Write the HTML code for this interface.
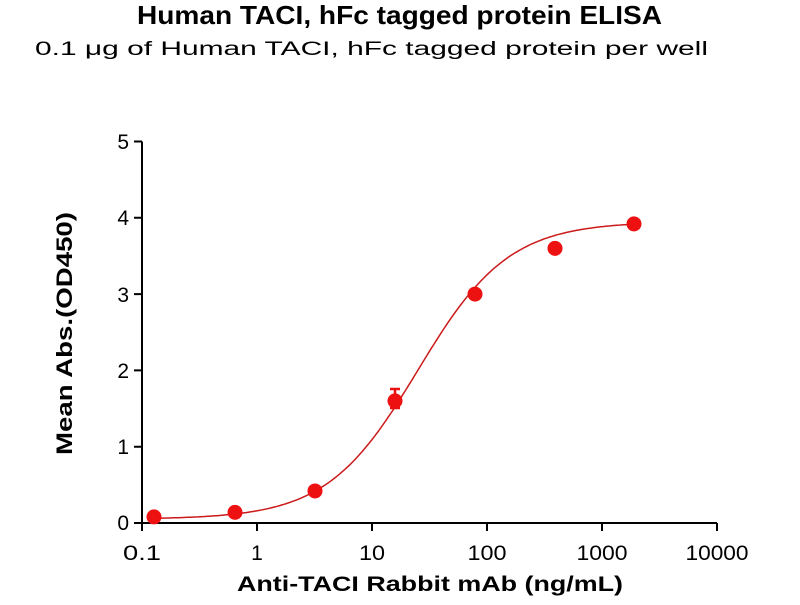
<!DOCTYPE html>
<html><head><style>body{margin:0;background:#fff}</style></head><body>
<svg id="s" width="800" height="600" xmlns="http://www.w3.org/2000/svg" font-family="Liberation Sans, Arial, sans-serif">
<text x="137" y="24" font-size="26" font-weight="bold" textLength="525" lengthAdjust="spacingAndGlyphs">Human TACI, hFc tagged protein ELISA</text>
<text x="35" y="55" font-size="19" textLength="673" lengthAdjust="spacingAndGlyphs">0.1 μg of Human TACI, hFc tagged protein per well</text>
<g stroke="#000" stroke-width="2" fill="none">
<path d="M142 141.5V523H717"/>
<path d="M134 141.5H142M134 217.8H142M134 294.1H142M134 370.4H142M134 446.7H142M134 523H142"/>
<path d="M142 523V531M257 523V531M372 523V531M487 523V531M602 523V531M717 523V531"/>
</g>
<g font-size="21" text-anchor="end">
<text x="129" y="149">5</text><text x="129" y="225">4</text><text x="129" y="302">3</text><text x="129" y="378">2</text><text x="129" y="454">1</text><text x="129" y="530">0</text>
</g>
<g font-size="21" text-anchor="middle">
<text x="142" y="560" textLength="38" lengthAdjust="spacingAndGlyphs">0.1</text><text x="257" y="560">1</text><text x="372" y="560" textLength="26" lengthAdjust="spacingAndGlyphs">10</text><text x="487" y="560" textLength="39" lengthAdjust="spacingAndGlyphs">100</text><text x="602" y="560" textLength="51" lengthAdjust="spacingAndGlyphs">1000</text><text x="717" y="560" textLength="63" lengthAdjust="spacingAndGlyphs">10000</text>
</g>
<text x="237" y="591" font-size="21" font-weight="bold" textLength="386" lengthAdjust="spacingAndGlyphs">Anti-TACI Rabbit mAb (ng/mL)</text>
<text transform="translate(72,455) rotate(-90)" font-size="22" font-weight="bold" textLength="243" lengthAdjust="spacingAndGlyphs">Mean Abs.(OD450)</text>
<path id="c" fill="none" stroke="#cc1a1a" stroke-width="1.5"/>
<path d="M395 389V408M390 389H400M390 408H400" stroke="#e81010" stroke-width="2.5"/>
<g fill="#ee1111" id="pts"></g>
</svg>
<script>
function X(c){return 142+115*Math.log10(c/0.1)}
function Y(v){return 523-76.3*v}
function f(c){return 0.05+3.9/(1+Math.pow(25/c,1.1))}
var d="";for(var i=0;i<=200;i++){var lc=Math.log10(0.128)+i/200*(Math.log10(2000)-Math.log10(0.128));var c=Math.pow(10,lc);d+=(i?"L":"M")+X(c).toFixed(1)+" "+Y(f(c)).toFixed(1);}
document.getElementById("c").setAttribute("d",d);
var pts=[[154,0.08],[235,0.14],[315,0.42],[395,1.6],[475,3.0],[555,3.6],[634,3.92]],g=document.getElementById("pts"),h="";
pts.forEach(function(p){h+='<circle cx="'+p[0]+'" cy="'+Y(p[1])+'" r="7.5"/>'});g.innerHTML=h;
</script>
</body></html>
